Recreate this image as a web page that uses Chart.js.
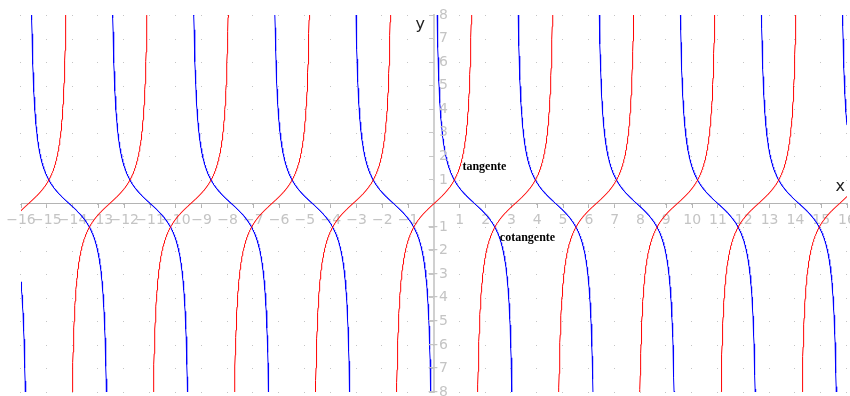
<!DOCTYPE html>
<html>
<head>
<meta charset="utf-8">
<script src="https://cdn.jsdelivr.net/npm/chart.js@4"></script>
<style>
  body { margin: 0; background: #fff; }
  #plot { display: block; }
</style>
</head>
<body>
<canvas id="plot" width="850" height="396"></canvas>
<script>
// axis ranges and tick labels (0 is not labelled)
const xRange = [-16, 16];
const yRange = [-8, 8];
const xTicks = [-16, -15, -14, -13, -12, -11, -10, -9, -8, -7, -6, -5, -4, -3, -2, -1,
                1, 2, 3, 4, 5, 6, 7, 8, 9, 10, 11, 12, 13, 14, 15, 16];
const yTicks = [-8, -7, -6, -5, -4, -3, -2, -1, 1, 2, 3, 4, 5, 6, 7, 8];

// the two plotted curves, named as in the picture
const seriesNames = ['tangente', 'cotangente'];
const seriesColors = ['#ff0000', '#0000ff'];

// annotations: [text, x, y]
const curveLabels = [['tangente', 1.1, 1.55], ['cotangente', 2.55, -1.45]];
const axisNames = [['x', 15.55, 0.7], ['y', -0.72, 7.6]];

// sample the functions; break the line at each asymptote
const step = 0.01;
const tanPts = [];
const cotPts = [];
for (let i = 0; i <= 3200; i++) {
    const x = +(xRange[0] + i * step).toFixed(2);
    const t = Math.tan(x);
    const c = 1 / t;
    tanPts.push({x: x, y: Math.abs(t) > 40 ? null : t});
    cotPts.push({x: x, y: Math.abs(c) > 40 ? null : c});
}

const minus = v => String(v).replace('-', '\u2212');

const lattice = {
    id: 'lattice',
    beforeDatasetsDraw(chart) {
        const {ctx, scales: {x, y}} = chart;
        ctx.save();
        ctx.fillStyle = '#c4c4c4';
        for (let i = xRange[0]; i <= xRange[1]; i++) {
            for (let j = yRange[0]; j <= yRange[1]; j++) {
                ctx.fillRect(Math.round(x.getPixelForValue(i)) - 1, Math.round(y.getPixelForValue(j)), 1, 1);
            }
        }
        ctx.restore();
    }
};

// y tick labels sit to the right of the axis, right aligned
const yLabels = {
    id: 'yLabels',
    afterDraw(chart) {
        const {ctx, scales: {x, y}} = chart;
        const ax = x.getPixelForValue(0);
        ctx.save();
        ctx.fillStyle = '#c4c4c4';
        ctx.font = '14px "DejaVu Sans"';
        ctx.textAlign = 'right';
        ctx.textBaseline = 'middle';
        y.ticks.forEach(t => ctx.fillText(minus(t.value), ax + 14, y.getPixelForValue(t.value)));
        ctx.restore();
    }
};

const notes = {
    id: 'notes',
    afterDraw(chart) {
        const {ctx, scales: {x, y}} = chart;
        ctx.save();
        ctx.fillStyle = '#000';
        ctx.textBaseline = 'middle';
        ctx.textAlign = 'left';
        ctx.font = 'bold 12px "Liberation Serif"';
        curveLabels.forEach(([t, a, b]) => ctx.fillText(t, x.getPixelForValue(a), y.getPixelForValue(b)));
        ctx.font = '16px "DejaVu Sans"';
        ctx.fillStyle = '#222';
        axisNames.forEach(([t, a, b]) => ctx.fillText(t, x.getPixelForValue(a), y.getPixelForValue(b)));
        ctx.restore();
    }
};

function flatten(s) {
    s.paddingLeft = s.paddingRight = s.paddingTop = s.paddingBottom = 0;
    if (s.isHorizontal()) s.height = 0; else s.width = 0;
}

new Chart(document.getElementById('plot'), {
    type: 'line',
    data: {
        datasets: [
            {label: seriesNames[0], data: tanPts, borderColor: seriesColors[0]},
            {label: seriesNames[1], data: cotPts, borderColor: seriesColors[1]}
        ]
    },
    options: {
        responsive: false,
        animation: false,
        layout: {padding: {left: 21, right: 3, top: 15, bottom: 4}},
        elements: {
            line: {borderWidth: 1, tension: 0},
            point: {radius: 0}
        },
        spanGaps: false,
        plugins: {legend: {display: false}, tooltip: {enabled: false}},
        scales: {
            x: {
                type: 'linear',
                position: {y: 0},
                min: xRange[0], max: xRange[1],
                afterBuildTicks: s => { s.ticks = xTicks.map(v => ({value: v})); },
                afterFit: flatten,
                grid: {drawOnChartArea: false, tickLength: 4, color: '#b4b4b4'},
                border: {color: '#b4b4b4', width: 1},
                ticks: {
                    autoSkip: false, maxRotation: 0, padding: 4,
                    color: '#c4c4c4', font: {family: 'DejaVu Sans', size: 14},
                    callback: minus
                }
            },
            y: {
                type: 'linear',
                position: {x: 0},
                min: yRange[0], max: yRange[1],
                afterBuildTicks: s => { s.ticks = yTicks.map(v => ({value: v})); },
                afterFit: flatten,
                grid: {drawOnChartArea: false, tickLength: 4, color: '#c8c8c8'},
                border: {color: '#d0d0d0', width: 2},
                ticks: {display: false, autoSkip: false}
            }
        }
    },
    plugins: [lattice, yLabels, notes]
});
</script>
</body>
</html>
